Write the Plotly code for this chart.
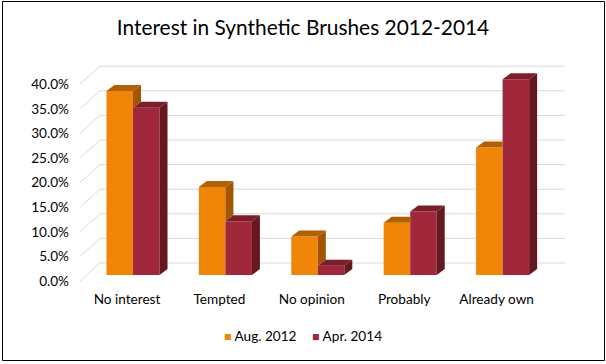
import plotly.graph_objects as go

# ---- data ----
categories = ["No interest", "Tempted", "No opinion", "Probably", "Already own"]
aug_2012 = [37.4, 17.9, 7.8, 10.6, 25.9]
apr_2014 = [34.0, 10.9, 1.9, 12.9, 39.8]
y_ticks = [0, 5, 10, 15, 20, 25, 30, 35, 40]
series_names = ["Aug. 2012", "Apr. 2014"]

# ---- styles / geometry (pixel calibration -> data units) ----
W, H = 606, 364
L, R, T, B = 70, 26, 40, 75
PX_X = 92.4            # px per category
PX_Y = 4.92            # px per percentage point
BAR_W = 0.287          # category fraction per bar
DX = 8 / PX_X          # 3D depth offset (x)
DY = 6 / PX_Y          # 3D depth offset (y)
BACK_DY = 12 / PX_Y    # back wall offset
FRONT_DY = -6 / PX_Y   # front plane offset
BACK_X0, BACK_X1, FRONT_X0 = -33 / PX_X, 432 / PX_X, -53 / PX_X
LABEL_SHIFT = -6 / PX_X

ORANGE = ["#F08508", "#B56000", "#A35600"]   # front, top, side
RED = ["#A0283A", "#7C1D2A", "#661821"]
GRID = "#D9D9D9"
FONT = "Lato"
LEGEND_X = [224, 312]   # px where each legend entry's square starts

x_idx = list(range(len(categories)))
x_range = [(0 - 133 + L) / PX_X, (W - R - 133) / PX_X]
y_range = [(275 - (H - B)) / PX_Y, (275 - T) / PX_Y]

fig = go.Figure()

# front faces
fig.add_trace(go.Bar(x=x_idx, y=aug_2012, width=BAR_W, offset=-BAR_W,
                     marker=dict(color=ORANGE[0], line=dict(width=0)),
                     showlegend=False, hoverinfo="skip"))
fig.add_trace(go.Bar(x=x_idx, y=apr_2014, width=BAR_W, offset=0,
                     marker=dict(color=RED[0], line=dict(width=0)),
                     showlegend=False, hoverinfo="skip"))


def poly(pts, color):
    xs = [p[0] for p in pts] + [pts[0][0]]
    ys = [p[1] for p in pts] + [pts[0][1]]
    fig.add_trace(go.Scatter(x=xs, y=ys, mode="lines", fill="toself",
                             fillcolor=color, line=dict(width=0, color=color),
                             showlegend=False, hoverinfo="skip"))


for i, (ov, rv) in enumerate(zip(aug_2012, apr_2014)):
    xl = i - BAR_W
    xr = i
    if rv >= ov:
        poly([(xl, ov), (xl + DX, ov + DY), (xr, ov + DY), (xr, ov)], ORANGE[1])
    else:
        poly([(xl, ov), (xl + DX, ov + DY), (xr + DX, ov + DY), (xr, ov)], ORANGE[1])
        poly([(xr, rv), (xr + DX, rv + DY), (xr + DX, ov + DY), (xr, ov)], ORANGE[2])
    rl, rr = i, i + BAR_W
    poly([(rl, rv), (rl + DX, rv + DY), (rr + DX, rv + DY), (rr, rv)], RED[1])
    poly([(rr, 0), (rr + DX, DY), (rr + DX, rv + DY), (rr, rv)], RED[2])

# legend entries (one legend each, square drawn as a glyph in the text)
for k, (name, col) in enumerate(zip(series_names, [ORANGE[0], RED[0]])):
    fig.add_trace(go.Scatter(
        x=[None], y=[None], mode="markers",
        name=f"<span style='color:{col};font-size:12.5px'>■</span> {name}",
        marker=dict(symbol="square", size=1, color="rgba(0,0,0,0)"),
        legend="legend" if k == 0 else "legend2"))

# gridlines (back wall + left wall)
shapes = []
for v in y_ticks:
    shapes.append(dict(type="line", xref="x", yref="y", layer="below",
                       x0=BACK_X0, x1=BACK_X1, y0=v + BACK_DY, y1=v + BACK_DY,
                       line=dict(color=GRID, width=1)))
    shapes.append(dict(type="line", xref="x", yref="y", layer="below",
                       x0=FRONT_X0, x1=BACK_X0, y0=v + FRONT_DY, y1=v + BACK_DY,
                       line=dict(color=GRID, width=1)))
# chart border
shapes.append(dict(type="rect", xref="paper", yref="paper",
                   x0=(2.5 - L) / (W - L - R), x1=(604.5 - L) / (W - L - R),
                   y0=((H - B) - 360.5) / (H - T - B), y1=((H - B) - 1.5) / (H - T - B),
                   line=dict(color="black", width=1)))

legend_common = dict(orientation="h", xref="container", xanchor="left",
                     yref="container", y=1 - 336 / H, yanchor="middle",
                     font=dict(family=FONT, size=13.6, color="#000000"),
                     itemwidth=30, bgcolor="rgba(0,0,0,0)")

fig.update_layout(
    width=W, height=H,
    margin=dict(l=L, r=R, t=T, b=B),
    paper_bgcolor="white", plot_bgcolor="white",
    barmode="overlay",
    font=dict(family=FONT, size=13.6, color="#000000"),
    title=dict(text="Interest in Synthetic Brushes 2012-2014",
               x=0.5, xanchor="center", xref="container",
               y=1 - 28 / H, yanchor="middle", yref="container",
               font=dict(family=FONT, size=20.9, color="#000000")),
    xaxis=dict(range=x_range, tickvals=[i + LABEL_SHIFT for i in x_idx],
               ticktext=categories, showgrid=False, zeroline=False,
               showline=False, ticks="", fixedrange=True),
    yaxis=dict(range=y_range, tickvals=[v + FRONT_DY for v in y_ticks],
               ticktext=[f"{v:.1f}%" for v in y_ticks], showgrid=False,
               zeroline=False, showline=False, ticks="", fixedrange=True),
    legend=dict(x=(LEGEND_X[0] - 40) / W, **legend_common),
    legend2=dict(x=(LEGEND_X[1] - 40) / W, **legend_common),
    shapes=shapes,
    showlegend=True,
)

fig.write_html("out.html", config={"displayModeBar": False},
               post_script="document.body.style.margin='0';document.body.style.overflow='hidden';")
